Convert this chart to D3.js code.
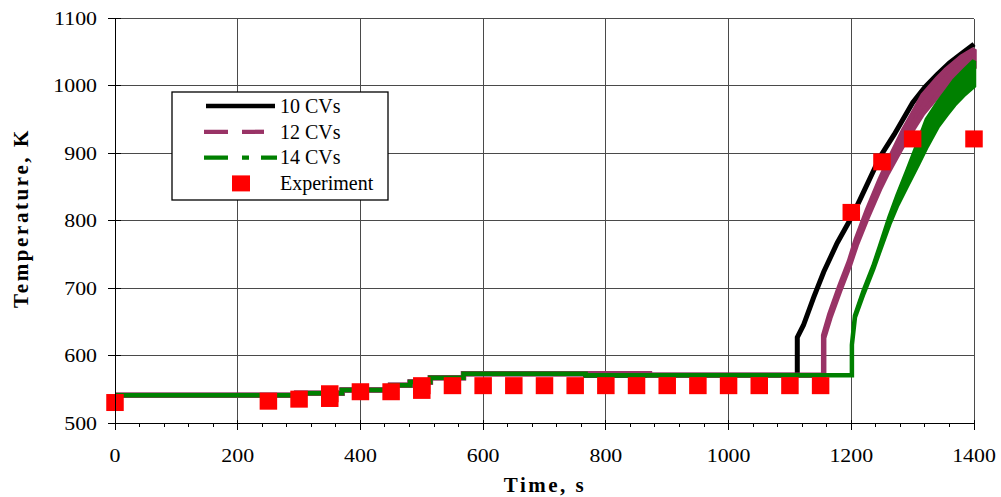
<!DOCTYPE html>
<html>
<head>
<meta charset="utf-8">
<script src="https://cdn.jsdelivr.net/npm/d3@7"></script>
<style>
  body { margin: 0; background: #fff; }
  svg { display: block; font-family: "Liberation Serif", "Times New Roman", serif; }
</style>
</head>
<body>
<svg id="chart" width="1001" height="497"></svg>
<script>
// ---- Data ---------------------------------------------------------------
// Common heat-up profile shared by all three nodalisations (time s, temperature K)
const baseTime = [0, 296, 296, 370, 370, 449, 449, 481, 481, 514, 514, 568, 568];
const baseTemp = [541, 541, 544, 544, 549, 549, 556, 556, 561, 561, 567, 567, 573];

// 10 CVs: plateau end and temperature excursion
const cv10Time = [767, 767, 1112, 1112, 1122, 1139, 1155, 1177, 1199, 1214, 1247, 1270, 1300, 1320, 1340, 1360, 1380, 1400];
const cv10Low  = [573, 571, 571, 627, 645, 687, 724, 767, 803, 831, 895, 928, 975, 998, 1017, 1034, 1048, 1062];
const cv10High = [573, 571, 571, 627, 645, 687, 724, 767, 803, 831, 895, 928, 975, 998, 1017, 1034, 1048, 1062];

// 12 CVs (oscillation band given by low / high envelope)
const cv12Time = [871, 871, 1155, 1155, 1165, 1181, 1197, 1208, 1226, 1247, 1259, 1285, 1317, 1340, 1355, 1380, 1400];
const cv12Low  = [573, 571, 571, 626, 656, 696, 734, 764, 805, 849, 871, 914, 960, 985, 999, 1016, 1028];
const cv12High = [573, 571, 571, 630, 661, 702, 740, 772, 815, 861, 885, 934, 986, 1010, 1024, 1043, 1054];

// 14 CVs
const cv14Time = [767, 767, 1201, 1201, 1206, 1220, 1236, 1247, 1262, 1275, 1292, 1309, 1323, 1341, 1355, 1368, 1385, 1400];
const cv14Low  = [573, 571, 571, 616, 657, 692, 729, 757, 795, 823, 854, 884, 910, 940, 957, 972, 988, 1000];
const cv14High = [573, 571, 571, 616, 659, 696, 733, 763, 805, 837, 876, 916, 950, 975, 992, 1008, 1024, 1037];

// Measured temperatures
const expTime = [0, 250, 300, 350, 350, 400, 450, 500, 500, 550, 600, 650, 700, 750, 800, 850, 900, 950, 1000, 1050, 1100, 1150, 1200, 1250, 1300, 1400];
const expTemp = [530, 532, 535, 536, 543, 546, 546, 548, 555, 555, 555, 555, 555, 555, 555, 555, 555, 555, 555, 555, 555, 555, 812, 887, 921, 921];

const xTicks = [0, 200, 400, 600, 800, 1000, 1200, 1400];
const yTicks = [500, 600, 700, 800, 900, 1000, 1100];
const legendLabels = ["10 CVs", "12 CVs", "14 CVs", "Experiment"];
const seriesColors = ["#000000", "#993366", "#008000"];
const expColor = "#ff0000";

// ---- Scales -------------------------------------------------------------
const svg = d3.select("#chart");
const x = d3.scaleLinear().domain([0, 1400]).range([115, 974]);
const y = d3.scaleLinear().domain([500, 1100]).range([423, 18.5]);

// stretch digits slightly wider, like the original typeface
function widen(sel, k) {
  sel.each(function () {
    const len = this.getComputedTextLength();
    d3.select(this).attr("textLength", len * k).attr("lengthAdjust", "spacingAndGlyphs");
  });
}

// ---- Grid ---------------------------------------------------------------
const grid = svg.append("g").attr("stroke", "#4a4a4a").attr("stroke-width", 1).attr("shape-rendering", "crispEdges");
grid.selectAll("line.v").data(xTicks.slice(1)).join("line")
  .attr("x1", d => x(d)).attr("x2", d => x(d)).attr("y1", y(1100)).attr("y2", y(500));
grid.selectAll("line.h").data(yTicks.slice(1)).join("line")
  .attr("x1", x(0)).attr("x2", x(1400)).attr("y1", d => y(d)).attr("y2", d => y(d));

// ---- Series -------------------------------------------------------------
function buildSeries(tt, lo, hi) {
  const pts = baseTime.map((t, i) => ({ t, lo: baseTemp[i], hi: baseTemp[i] }));
  tt.forEach((t, i) => pts.push({ t, lo: lo[i], hi: hi[i] }));
  return pts;
}
const series = [
  { pts: buildSeries(cv10Time, cv10Low, cv10High), color: seriesColors[0], w: 5 },
  { pts: buildSeries(cv12Time, cv12Low, cv12High), color: seriesColors[1], w: 5.5 },
  { pts: buildSeries(cv14Time, cv14Low, cv14High), color: seriesColors[2], w: 4.5 }
];
const band = d3.area().x(d => x(d.t)).y0(d => y(d.lo)).y1(d => y(d.hi));
svg.append("g").selectAll("path").data(series).join("path")
  .attr("d", d => band(d.pts))
  .attr("fill", d => d.color)
  .attr("stroke", d => d.color)
  .attr("stroke-width", d => d.w)
  .attr("stroke-linejoin", "miter")
  .attr("stroke-miterlimit", 2);

// ---- Experiment markers -------------------------------------------------
const sq = 17.5;
svg.append("g").selectAll("rect").data(expTime.map((t, i) => ({ t, v: expTemp[i] }))).join("rect")
  .attr("x", d => x(d.t) - sq / 2).attr("y", d => y(d.v) - sq / 2)
  .attr("width", sq).attr("height", sq - 0.5)
  .attr("fill", expColor);

// ---- Axes ---------------------------------------------------------------
const axes = svg.append("g").attr("stroke", "#000").attr("stroke-width", 1).attr("shape-rendering", "crispEdges");
axes.append("line").attr("x1", x(0)).attr("x2", x(0)).attr("y1", y(1100)).attr("y2", y(500) + 6);
axes.append("line").attr("x1", x(0) - 7).attr("x2", x(1400)).attr("y1", y(500)).attr("y2", y(500));
axes.selectAll("line.yt").data(yTicks).join("line")
  .attr("x1", x(0) - 7).attr("x2", x(0) + 6).attr("y1", d => y(d)).attr("y2", d => y(d));
axes.selectAll("line.xm").data(d3.range(0, 1401, 40)).join("line")
  .attr("x1", d => x(d)).attr("x2", d => x(d)).attr("y1", y(500)).attr("y2", y(500) + 4);
axes.selectAll("line.xt").data(xTicks).join("line")
  .attr("x1", d => x(d)).attr("x2", d => x(d)).attr("y1", y(500) - 3).attr("y2", y(500) + 7);

const yLab = svg.append("g").selectAll("text").data(yTicks).join("text")
  .attr("x", 97).attr("y", d => y(d) + 6.5)
  .attr("text-anchor", "end").attr("font-size", 19).attr("fill", "#000")
  .text(d => d);
const xLab = svg.append("g").selectAll("text").data(xTicks).join("text")
  .attr("x", d => x(d)).attr("y", 461.5)
  .attr("text-anchor", "middle").attr("font-size", 19).attr("fill", "#000")
  .text(d => d);
widen(yLab, 1.15);
widen(xLab, 1.15);
yLab.each(function () { const w = +this.getAttribute("textLength"); d3.select(this).attr("text-anchor", "start").attr("x", 97 - w); });
xLab.each(function (d) { const w = +this.getAttribute("textLength"); d3.select(this).attr("text-anchor", "start").attr("x", x(d) - w / 2); });

svg.append("text")
  .attr("x", 545).attr("y", 492)
  .attr("text-anchor", "middle").attr("font-size", 21).attr("font-weight", "bold")
  .attr("letter-spacing", 2.5)
  .text("Time, s");
svg.append("text")
  .attr("transform", "translate(28,218) rotate(-90)")
  .attr("text-anchor", "middle").attr("font-size", 21).attr("font-weight", "bold")
  .attr("letter-spacing", 2.6)
  .text("Temperature, K");

// ---- Legend -------------------------------------------------------------
const lg = svg.append("g");
lg.append("rect").attr("x", 172).attr("y", 92).attr("width", 216).attr("height", 108)
  .attr("fill", "#fff").attr("stroke", "#000").attr("stroke-width", 1.3);
const rowY = i => 106 + i * 25.8;
const dashes = [null, "24,14", "24,14,7,12"];
[0, 1, 2].forEach(i => {
  lg.append("line")
    .attr("x1", i === 0 ? 206 : 204).attr("x2", i === 2 ? 277 : (i === 1 ? 264 : 275))
    .attr("y1", rowY(i)).attr("y2", rowY(i))
    .attr("stroke", seriesColors[i]).attr("stroke-width", 4.3)
    .attr("stroke-dasharray", dashes[i]);
});
lg.append("rect").attr("x", 232).attr("y", rowY(3) - 8).attr("width", 18).attr("height", 16).attr("fill", expColor);
lg.selectAll("text").data(legendLabels).join("text")
  .attr("x", 280).attr("y", (d, i) => rowY(i) + 6.8)
  .attr("font-size", 20).attr("fill", "#000")
  .text(d => d);
</script>
</body>
</html>
